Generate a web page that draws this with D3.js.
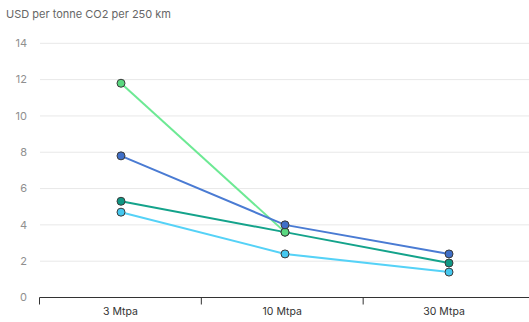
<!DOCTYPE html>
<html><head><meta charset="utf-8">
<script src="https://cdn.jsdelivr.net/npm/d3@7"></script>
<style>body{margin:0;background:#fff;font-family:Inter,"Noto Sans",sans-serif;}</style>
</head><body><svg id="c" width="529" height="322"></svg>
<script>
const categories = ["3 Mtpa", "10 Mtpa", "30 Mtpa"];
const yTicks = [0, 2, 4, 6, 8, 10, 12, 14];
const greenValues = [11.8, 3.6, null];
const tealValues = [5.3, 3.6, 1.9];
const cyanValues = [4.7, 2.4, 1.4];
const blueValues = [7.8, 4.0, 2.4];
const lineColors = ["#6de994", "#14a38b", "#55d2f7", "#4a7bd3"];
const dotColors = ["#5ad880", "#0f9784", "#45c8ef", "#3f6fc8"];
const series = [greenValues, tealValues, cyanValues, blueValues];
const dotOrder = [1, 2, 0, 3];

const svg = d3.select("#c");
const y = d3.scaleLinear().domain([0, 14]).range([297.5, 43.3]);
const xBand = d3.scaleBand().domain(categories).range([39.5, 525]);
const xPt = d3.scalePoint().domain(categories).range([121, 449]);

svg.append("text").attr("x", 6).attr("y", 18).attr("font-size", 11).attr("fill", "#666")
  .text("USD per tonne CO2 per 250 km");

svg.append("g").selectAll("line").data(yTicks.filter(d => d > 0)).join("line")
  .attr("x1", 40).attr("x2", 529).attr("y1", d => y(d)).attr("y2", d => y(d))
  .attr("stroke", "#e8e8e8").attr("stroke-width", 1);

svg.append("g").selectAll("text").data(yTicks).join("text")
  .attr("x", 27).attr("y", d => y(d)).attr("dy", "0.35em").attr("text-anchor", "end")
  .attr("font-size", 11).attr("fill", "#8f8f8f").text(d => d);

const xa = svg.append("g").attr("transform", "translate(0,297.5)")
  .call(d3.axisBottom(xBand).tickSize(0).tickPadding(10));
xa.select(".domain").remove();
xa.append("line").attr("x1", 39.5).attr("x2", 529).attr("stroke", "#333");
xa.selectAll("line.tk").data([0, 1, 2]).join("line").attr("class", "tk")
  .attr("x1", i => xBand.range()[0] + i * xBand.bandwidth())
  .attr("x2", i => xBand.range()[0] + i * xBand.bandwidth())
  .attr("y1", 0).attr("y2", 7).attr("stroke", "#333");
xa.selectAll(".tick text").attr("font-size", 10.5).attr("fill", "#333")
  .attr("font-family", "Inter,'Noto Sans',sans-serif");

const line = d3.line().defined(d => d.v != null).x(d => xPt(d.c)).y(d => y(d.v));
series.forEach((vals, i) => {
  const pts = vals.map((v, j) => ({c: categories[j], v}));
  svg.append("path").datum(pts).attr("d", line).attr("fill", "none")
    .attr("stroke", lineColors[i]).attr("stroke-width", 2);
});
dotOrder.forEach(i => {
  const pts = series[i].map((v, j) => ({c: categories[j], v})).filter(d => d.v != null);
  svg.append("g").selectAll("circle").data(pts).join("circle")
    .attr("cx", d => xPt(d.c)).attr("cy", d => y(d.v)).attr("r", 4)
    .attr("fill", dotColors[i]).attr("stroke", "#3a3a3a").attr("stroke-width", 1);
});
</script></body></html>
